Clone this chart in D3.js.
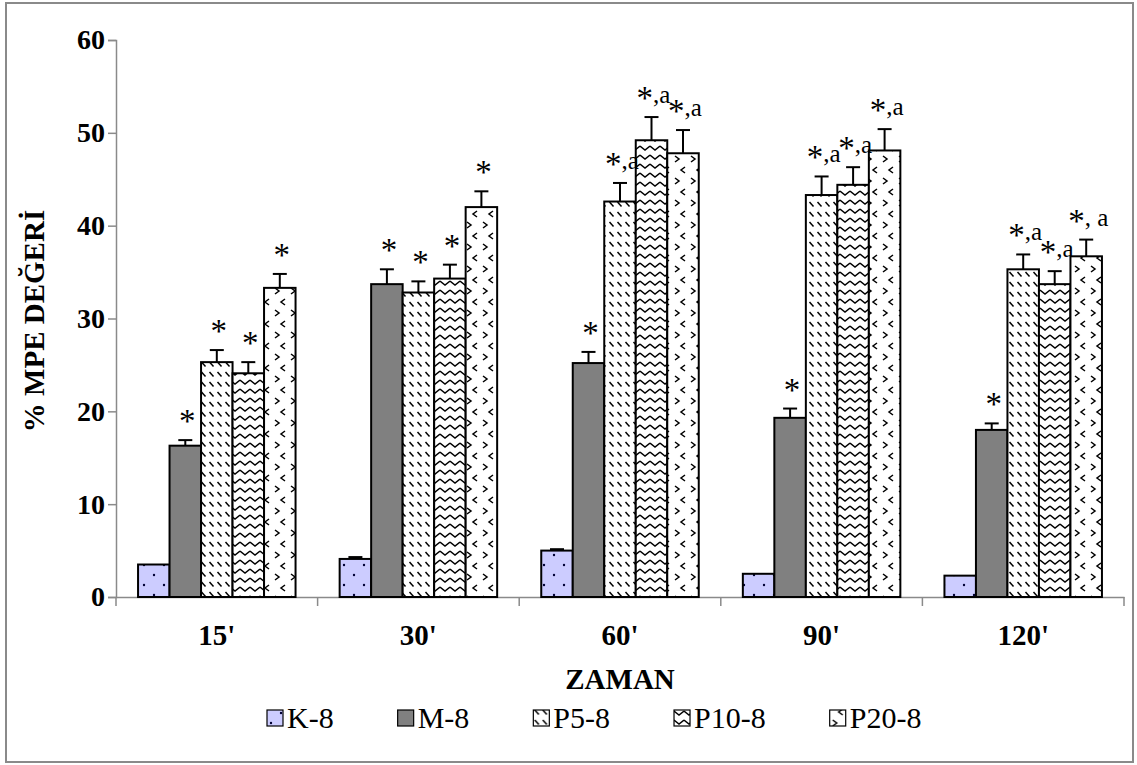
<!DOCTYPE html>
<html>
<head>
<meta charset="utf-8">
<script src="https://cdn.jsdelivr.net/npm/d3@7"></script>
<style>
  body { margin: 0; background: #fff; }
  text { font-family: "Liberation Serif", "Times New Roman", serif; }
</style>
</head>
<body>
<div id="chart"></div>
<script>
const width = 1137;
const height = 765;

// data
const groups = ["15'", "30'", "60'", "90'", "120'"];
const series = ["K-8", "M-8", "P5-8", "P10-8", "P20-8"];
const kValues = [3.5, 4.1, 5.0, 2.5, 2.3];
const kErrors = [0, 0.2, 0.15, 0, 0];
const mValues = [16.3, 33.7, 25.2, 19.3, 18.0];
const mErrors = [0.6, 1.6, 1.2, 1.0, 0.7];
const p5Values = [25.3, 32.8, 42.6, 43.3, 35.3];
const p5Errors = [1.3, 1.2, 2.0, 2.0, 1.6];
const p10Values = [24.1, 34.3, 49.2, 44.4, 33.7];
const p10Errors = [1.2, 1.5, 2.5, 1.9, 1.4];
const p20Values = [33.3, 42.0, 47.8, 48.1, 36.7];
const p20Errors = [1.5, 1.7, 2.5, 2.3, 1.8];
const kLabels = ["", "", "", "", ""];
const mLabels = ["*", "*", "*", "*", "*"];
const p5Labels = ["*", "*", "*,a", "*,a", "*,a"];
const p10Labels = ["*", "*", "*,a", "*,a", "*,a"];
const p20Labels = ["*", "*", "*,a", "*,a", "*, a"];
const yTicks = [0, 10, 20, 30, 40, 50, 60];

const values = [kValues, mValues, p5Values, p10Values, p20Values];
const errors = [kErrors, mErrors, p5Errors, p10Errors, p20Errors];
const labels = [kLabels, mLabels, p5Labels, p10Labels, p20Labels];

const rows = [];
series.forEach((s, si) => {
  groups.forEach((g, gi) => {
    rows.push({ s, g, v: values[si][gi], e: errors[si][gi], lab: labels[si][gi] });
  });
});

const svg = d3.select("#chart").append("svg")
  .attr("width", width).attr("height", height);

// outer frame
svg.append("rect")
  .attr("x", 6).attr("y", 3).attr("width", 1127).attr("height", 759)
  .attr("fill", "none").attr("stroke", "#8a8a8a").attr("stroke-width", 2);

const defs = svg.append("defs");

// K-8: lavender with dots
const pk = defs.append("pattern").attr("id", "pat0")
  .attr("patternUnits", "userSpaceOnUse").attr("width", 20).attr("height", 20);
pk.append("rect").attr("width", 20).attr("height", 20).attr("fill", "#ccccff");
pk.append("circle").attr("cx", 4).attr("cy", 5).attr("r", 1.2).attr("fill", "#000033");
pk.append("circle").attr("cx", 14).attr("cy", 15).attr("r", 1.2).attr("fill", "#000033");

// M-8: solid grey
const pm = defs.append("pattern").attr("id", "pat1")
  .attr("patternUnits", "userSpaceOnUse").attr("width", 10).attr("height", 10);
pm.append("rect").attr("width", 10).attr("height", 10).attr("fill", "#808080");

// P5-8: short diagonal strokes
const p5 = defs.append("pattern").attr("id", "pat2")
  .attr("patternUnits", "userSpaceOnUse").attr("width", 8).attr("height", 10);
p5.append("rect").attr("width", 8).attr("height", 10).attr("fill", "#fff");
p5.append("path").attr("d", "M1.5,2 L5.5,6.5").attr("stroke", "#000").attr("stroke-width", 1.5);

// P10-8: zigzag waves
const p10 = defs.append("pattern").attr("id", "pat3")
  .attr("patternUnits", "userSpaceOnUse").attr("width", 10).attr("height", 9);
p10.append("rect").attr("width", 10).attr("height", 9).attr("fill", "#fff");
p10.append("path").attr("d", "M0,2 L5,6 L10,2").attr("fill", "none")
  .attr("stroke", "#000").attr("stroke-width", 1.4);

// P20-8: chevrons
const p20 = defs.append("pattern").attr("id", "pat4")
  .attr("patternUnits", "userSpaceOnUse").attr("width", 16).attr("height", 22);
p20.append("rect").attr("width", 16).attr("height", 22).attr("fill", "#fff");
p20.append("path").attr("d", "M3,2 L7,5 L3,8 M13,13 L9,16 L13,19").attr("fill", "none")
  .attr("stroke", "#000").attr("stroke-width", 1.5);

const x0 = d3.scaleBand().domain(groups).range([116, 1124]).paddingInner(0).paddingOuter(0);
const x1 = d3.scaleBand().domain(series).range([0, x0.bandwidth()]).paddingInner(0).paddingOuter(0.7);
const y = d3.scaleLinear().domain([0, 60]).range([597, 40]);

// y axis
const yAxis = svg.append("g").attr("transform", "translate(116,0)")
  .call(d3.axisLeft(y).tickValues(yTicks).tickSize(8).tickPadding(3));
yAxis.select(".domain").attr("stroke", "#8a8a8a").attr("stroke-width", 1.5);
yAxis.selectAll(".tick line").attr("stroke", "#8a8a8a").attr("stroke-width", 1.5);
yAxis.selectAll(".tick text")
  .attr("font-family", "Liberation Serif").attr("font-size", 28).attr("font-weight", "bold")
  .attr("fill", "#000");

// x axis
const xAxis = svg.append("g").attr("transform", "translate(0,597)")
  .call(d3.axisBottom(x0).tickSize(0).tickPadding(27));
xAxis.select(".domain").attr("stroke", "#8a8a8a").attr("stroke-width", 1.5);
xAxis.selectAll(".tick text")
  .attr("font-family", "Liberation Serif").attr("font-size", 29).attr("font-weight", "bold")
  .attr("fill", "#000");
// category separators
const sepPos = groups.map(g => x0(g)).concat([x0.range()[1]]);
svg.append("g").selectAll("line").data(sepPos).join("line")
  .attr("x1", d => d).attr("x2", d => d).attr("y1", 597).attr("y2", 606)
  .attr("stroke", "#8a8a8a").attr("stroke-width", 1.5);

// bars
const bars = svg.append("g");
bars.selectAll("rect").data(rows).join("rect")
  .attr("x", d => x0(d.g) + x1(d.s))
  .attr("y", d => y(d.v))
  .attr("width", x1.bandwidth())
  .attr("height", d => y(0) - y(d.v))
  .attr("fill", d => "url(#pat" + series.indexOf(d.s) + ")")
  .attr("stroke", "#000").attr("stroke-width", 2);

// error bars
const eb = svg.append("g").attr("stroke", "#000").attr("stroke-width", 2);
const withErr = rows.filter(d => d.e > 0);
eb.selectAll("line.v").data(withErr).join("line").attr("class", "v")
  .attr("x1", d => x0(d.g) + x1(d.s) + x1.bandwidth() / 2)
  .attr("x2", d => x0(d.g) + x1(d.s) + x1.bandwidth() / 2)
  .attr("y1", d => y(d.v)).attr("y2", d => y(d.v + d.e));
eb.selectAll("line.c").data(withErr).join("line").attr("class", "c")
  .attr("x1", d => x0(d.g) + x1(d.s) + x1.bandwidth() / 2 - 7)
  .attr("x2", d => x0(d.g) + x1(d.s) + x1.bandwidth() / 2 + 7)
  .attr("y1", d => y(d.v + d.e)).attr("y2", d => y(d.v + d.e));

// significance labels, asterisk drawn a bit larger like the original
const lab = svg.append("g").selectAll("text").data(rows.filter(d => d.lab)).join("text")
  .attr("x", d => x0(d.g) + x1(d.s) + x1.bandwidth() / 2 + 2)
  .attr("y", d => y(d.v + d.e) - 14)
  .attr("text-anchor", "middle")
  .attr("font-family", "Liberation Serif").attr("font-size", 25);
lab.append("tspan").attr("font-size", 33).attr("dy", 6).text("*");
lab.append("tspan").attr("dy", -6).text(d => d.lab.slice(1));

// axis titles
svg.append("text")
  .attr("x", x0.range()[0] + (x0.range()[1] - x0.range()[0]) / 2).attr("y", 689)
  .attr("text-anchor", "middle")
  .attr("font-family", "Liberation Serif").attr("font-size", 29).attr("font-weight", "bold")
  .text("ZAMAN");

svg.append("text")
  .attr("transform", "translate(44,321) rotate(-90)")
  .attr("text-anchor", "middle")
  .attr("font-family", "Liberation Serif").attr("font-size", 29).attr("font-weight", "bold")
  .text("% MPE DEĞERİ");

// legend
const legend = svg.append("g").attr("transform", "translate(0,718)");
let lx = 267;
series.forEach((s, i) => {
  const it = legend.append("g").attr("transform", `translate(${lx},0)`);
  it.append("rect").attr("x", 0).attr("y", -8).attr("width", 16).attr("height", 16)
    .attr("fill", `url(#pat${i})`).attr("stroke", "#000").attr("stroke-width", 1.2);
  const t = it.append("text").attr("x", 20).attr("y", 10)
    .attr("font-family", "Liberation Serif").attr("font-size", 30).text(s);
  lx += 20 + t.node().getComputedTextLength() + 64;
});
</script>
</body>
</html>
